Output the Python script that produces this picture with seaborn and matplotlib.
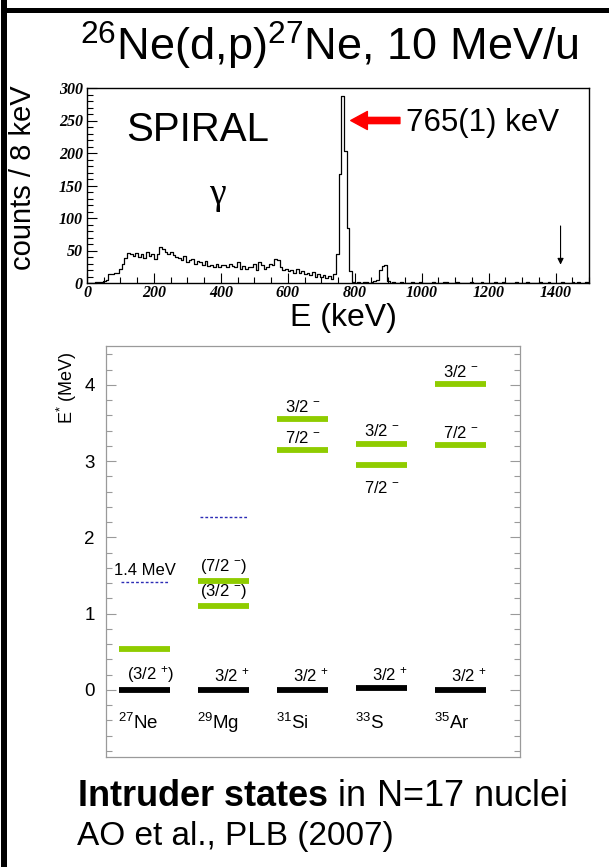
import numpy as np
import pandas as pd
import matplotlib
matplotlib.use("Agg")
import matplotlib.pyplot as plt
import seaborn as sns
from matplotlib.patches import Rectangle

sns.set_theme(style="white")
plt.rcParams['font.family'] = ['Liberation Sans', 'DejaVu Sans']
plt.rcParams['mathtext.fontset'] = 'custom'
plt.rcParams['mathtext.rm'] = 'Liberation Sans'
plt.rcParams['mathtext.it'] = 'Liberation Sans:italic'
plt.rcParams['mathtext.bf'] = 'Liberation Sans:bold'
plt.rcParams['text.color'] = 'black'
plt.rcParams['xtick.color'] = 'black'
plt.rcParams['ytick.color'] = 'black'
plt.rcParams['axes.labelcolor'] = 'black'

# ---------------- data: gamma spectrum (8 keV bins starting at 0 keV) ----------------
counts_a = [0, 0, 0, 1, 2, 2, 3, 5, 14, 14, 15, 16, 22, 29, 38, 46]
counts_b = [44, 42, 46, 40, 45, 38, 47, 41, 44, 37, 45]
counts_c = [56, 52, 48, 45, 47, 43, 40]
counts_d = [38, 36, 41, 33, 35, 37, 30, 34, 32, 28, 34]
counts_e = [26, 28, 24, 29, 25, 27, 28, 25, 30, 26, 24, 33]
counts_f = [22, 26, 21, 25, 24, 30, 20, 32, 28, 22, 24, 30, 27]
counts_g = [37, 35]
counts_h = [24, 20, 22, 18, 20, 16, 21, 15, 18, 14, 16, 12, 17, 10, 14, 9, 13, 8, 11]
counts_peak = [6, 14, 45, 168, 287, 203, 84, 18, 2]
counts_i = [0, 1, 0, 2, 1, 0, 2, 3, 5, 20, 26, 27, 3]
counts_tail = [0, 1, 0, 0, 1, 0, 0, 0, 1, 0, 0, 1, 0, 0, 0, 0, 1, 0, 0, 0, 1, 1, 0, 0, 0,
               1, 0, 0, 0, 0, 1, 0, 0, 0, 1, 0, 0, 0, 0, 1, 0, 0, 1, 0, 0, 0, 0, 1, 0, 0,
               0, 1, 0, 0, 0, 0, 1, 0, 0, 1, 0, 0, 0, 0, 1, 0, 0, 0, 1, 0, 1, 0, 0, 1, 0]
counts = (counts_a + counts_b + counts_c + counts_d + counts_e + counts_f + counts_g
          + counts_h + counts_peak + counts_i + counts_tail)
bin_width = 8
hist_xticks = [0, 200, 400, 600, 800, 1000, 1200, 1400]
hist_yticks = [0, 50, 100, 150, 200, 250, 300]
peak_label = "765(1) keV"

# ---------------- data: level scheme ----------------
nuclei = [r"$^{27}$Ne", r"$^{29}$Mg", r"$^{31}$Si", r"$^{33}$S", r"$^{35}$Ar"]
ground_E = [0.0, 0.0, 0.0, 0.02, 0.0]
ground_labels = [r"(3/2 $^{+}$)", r"3/2 $^{+}$", r"3/2 $^{+}$", r"3/2 $^{+}$", r"3/2 $^{+}$"]
intruder_nucleus = [1, 2, 2, 3, 3, 4, 4, 5, 5]
intruder_E = [0.53, 1.43, 1.10, 3.55, 3.14, 3.23, 2.95, 4.01, 3.21]
intruder_labels = ["", r"(7/2 $^{-}$)", r"(3/2 $^{-}$)", r"3/2 $^{-}$", r"7/2 $^{-}$",
                   r"3/2 $^{-}$", r"7/2 $^{-}$", r"3/2 $^{-}$", r"7/2 $^{-}$"]
intruder_label_below = [False, False, False, False, False, False, True, False, False]
dotted_nucleus = [1, 2]
dotted_E = [1.41, 2.27]
dotted_labels = ["1.4 MeV", ""]
level_yticks = [0, 1, 2, 3, 4]

# ---------------- figure ----------------
W, H = 609, 867
fig = plt.figure(figsize=(W / 100, H / 100), dpi=100)

def fx(px):
    return px / W

def fy(py):
    return 1 - py / H

# border lines (left and top)
fig.add_artist(Rectangle((fx(1), 0), fx(6), 1, transform=fig.transFigure,
                         color='black', lw=0))
fig.add_artist(Rectangle((fx(1), fy(13)), 1, 5 / H, transform=fig.transFigure,
                         color='black', lw=0))

fig.text(fx(329), fy(46), r"$^{26}$Ne(d,p)$^{27}$Ne, 10 MeV/u", ha='center', va='center',
         fontsize=32.5)

# ---------------- histogram ----------------
ax = fig.add_axes([fx(87), fy(283), fx(589) - fx(87), fy(88) - fy(283)])
edges = [i * bin_width for i in range(len(counts) + 1)]
spec = pd.DataFrame({"E": [e + bin_width / 2 for e in edges[:-1]], "counts": counts})
sns.histplot(data=spec, x="E", weights="counts", bins=edges, element='step', fill=False,
             color='black', linewidth=0.9, ax=ax)
ax.set_xlim(0, 1500)
ax.set_ylim(0, 300)
ax.set_ylabel("")
ax.set_xlabel("")
for s in ax.spines.values():
    s.set_color('black')
    s.set_linewidth(1.0)
    s.set_visible(True)
ax.set_xticks(hist_xticks)
ax.set_yticks(hist_yticks)
ax.set_xticks(np.arange(0, 1501, 50), minor=True)
ax.set_yticks(np.arange(0, 301, 10), minor=True)
ax.tick_params(axis='both', which='both', direction='in', color='black', width=0.8,
               left=True, bottom=True, top=False, right=False)
ax.tick_params(axis='both', which='major', length=7)
ax.tick_params(axis='both', which='minor', length=4)
ax.tick_params(axis='x', pad=1.5)
ax.tick_params(axis='y', pad=3)
for lab in ax.get_xticklabels() + ax.get_yticklabels():
    lab.set_fontfamily('Liberation Serif')
    lab.set_fontweight('bold')
    lab.set_fontstyle('italic')
    lab.set_fontsize(11.5)
ax.grid(False)

ax.text(330, 236, "SPIRAL", ha='center', va='center', fontsize=29)
ax.text(390, 136, "γ", ha='center', va='center', fontsize=27, family='Liberation Serif')
ax.annotate("", xy=(788, 250), xytext=(935, 250),
            arrowprops=dict(facecolor='red', edgecolor='red', width=4.5, headwidth=13,
                            headlength=12))
ax.text(953, 246, peak_label, ha='left', va='center', fontsize=22.5)
ax.annotate("", xy=(1415, 24), xytext=(1415, 92),
            arrowprops=dict(arrowstyle='-|>', color='black', lw=0.8,
                            mutation_scale=9))

fig.text(fx(23), fy(178), "counts / 8 keV", rotation=90, ha='center', va='center',
         fontsize=21)
fig.text(fx(343), fy(318), "E (keV)", ha='center', va='center', fontsize=23)

# ---------------- level scheme ----------------
ax2 = fig.add_axes([fx(106), fy(757), fx(520) - fx(106), fy(346) - fy(757)])
ax2.set_xlim(0.51, 5.75)
ax2.set_ylim(-0.88, 4.51)
hw = 0.32
lev_green = '#8fcc00'
xs = np.arange(1, len(nuclei) + 1)
ax2.hlines(ground_E, xs - hw, xs + hw, color='black', lw=4.2)
ix = np.array(intruder_nucleus)
ax2.hlines(intruder_E, ix - hw, ix + hw, color=lev_green, lw=4.2)
dx = np.array(dotted_nucleus)
ax2.hlines(dotted_E, dx - 0.3, dx + 0.3, color='#2b2bb5', lw=1.0, linestyles=(0, (2, 1.5)))

lab_fs = 12
for x, e, lab in zip(xs, ground_E, ground_labels):
    off = 0.07 if x == 1 else 0.1
    ax2.text(x + off, e + 0.07, lab, ha='center', va='bottom', fontsize=lab_fs)
for x, e, lab, below in zip(intruder_nucleus, intruder_E, intruder_labels,
                            intruder_label_below):
    if not lab:
        continue
    if below:
        ax2.text(x, e - 0.2, lab, ha='center', va='top', fontsize=lab_fs)
    else:
        ax2.text(x, e + 0.06, lab, ha='center', va='bottom', fontsize=lab_fs)
for x, e, lab in zip(dotted_nucleus, dotted_E, dotted_labels):
    if lab:
        ax2.text(x, e + 0.06, lab, ha='center', va='bottom', fontsize=lab_fs)
for x, lab in zip(xs, nuclei):
    ax2.text(x - hw - 0.02, -0.43, lab, ha='left', va='center', fontsize=13.5)

for s in ax2.spines.values():
    s.set_color('#9a9a9a')
    s.set_linewidth(0.9)
    s.set_visible(True)
ax2.set_xticks([])
ax2.set_yticks(level_yticks)
ax2.set_yticklabels([str(v) for v in level_yticks])
ax2.set_yticks(np.arange(-0.8, 4.5, 0.2), minor=True)
ax2.tick_params(axis='y', which='both', direction='in', color='#9a9a9a', width=0.8,
                left=True, right=True, labelsize=13.5, labelcolor='black', pad=8)
ax2.tick_params(axis='y', which='major', length=7)
ax2.tick_params(axis='y', which='minor', length=4)
ax2.grid(False)
fig.text(fx(67), fy(388), r"E$^{*}$ (MeV)", rotation=90, ha='center', va='center',
         fontsize=13)

# ---------------- bottom text ----------------
fig.text(fx(77), fy(797), r"$\bf{Intruder\ states}$ in N=17 nuclei", ha='left',
         va='center', fontsize=26)
fig.text(fx(77), fy(836), "AO et al., PLB (2007)", ha='left', va='center', fontsize=24)

fig.savefig("out.png", dpi=100)
